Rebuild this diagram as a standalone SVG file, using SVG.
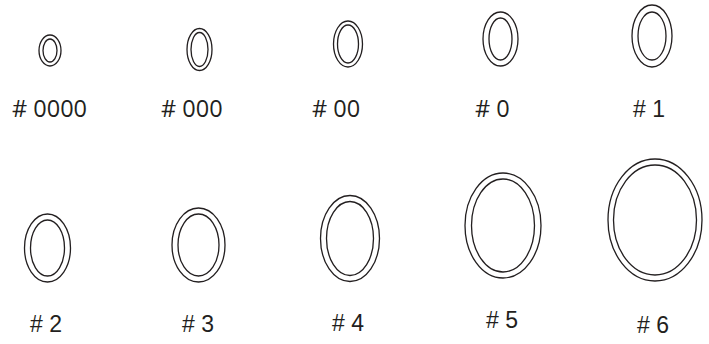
<svg xmlns="http://www.w3.org/2000/svg" width="709" height="344" viewBox="0 0 709 344">
<style>
.r{fill:none;stroke:#231f20;stroke-width:1.3}
.a{font-family:"Open Sans","Liberation Sans",sans-serif;font-size:23.5px;fill:#231f20}
.b{font-family:"Liberation Sans",Arial,sans-serif;font-size:23px;fill:#231f20}
</style>
<rect width="709" height="344" fill="#fff"/>
<g id="s0000">
<ellipse class="r" cx="50" cy="50.5" rx="11" ry="15.5"/>
<ellipse class="r" cx="50" cy="50.5" rx="7" ry="11.5"/>
<text class="a" x="12" y="117">#&#160;0000</text>
</g>
<g id="s000">
<ellipse class="r" cx="199.5" cy="49.5" rx="12.5" ry="21"/>
<ellipse class="r" cx="199.5" cy="49.5" rx="8.5" ry="17"/>
<text class="a" x="161" y="117">#&#160;000</text>
</g>
<g id="s00">
<ellipse class="r" cx="348" cy="44" rx="14.5" ry="23"/>
<ellipse class="r" cx="348" cy="44" rx="10.5" ry="19"/>
<text class="a" x="312" y="117">#&#160;00</text>
</g>
<g id="s0">
<ellipse class="r" cx="500.5" cy="39" rx="17.5" ry="27"/>
<ellipse class="r" cx="500.5" cy="39" rx="11.5" ry="21"/>
<text class="a" x="475" y="117">#&#160;0</text>
</g>
<g id="s1">
<ellipse class="r" cx="652" cy="36" rx="20" ry="31"/>
<ellipse class="r" cx="652" cy="36" rx="14" ry="24"/>
<text class="b" x="633" y="117">#&#160;1</text>
</g>
<g id="s2">
<ellipse class="r" cx="47.5" cy="248" rx="23" ry="34"/>
<ellipse class="r" cx="47.5" cy="248" rx="17" ry="28"/>
<text class="b" x="30" y="332">#&#160;2</text>
</g>
<g id="s3">
<ellipse class="r" cx="198.5" cy="245" rx="26.5" ry="37"/>
<ellipse class="r" cx="198.5" cy="245" rx="20.5" ry="31"/>
<text class="b" x="182" y="332">#&#160;3</text>
</g>
<g id="s4">
<ellipse class="r" cx="350" cy="238.5" rx="29.5" ry="43"/>
<ellipse class="r" cx="350" cy="238.5" rx="23.5" ry="37"/>
<text class="b" x="332" y="331">#&#160;4</text>
</g>
<g id="s5">
<ellipse class="r" cx="503" cy="225.5" rx="38" ry="52.5"/>
<ellipse class="r" cx="503" cy="225.5" rx="31.5" ry="46.5"/>
<text class="b" x="486" y="328">#&#160;5</text>
</g>
<g id="s6">
<ellipse class="r" cx="655" cy="220" rx="47" ry="61"/>
<ellipse class="r" cx="655" cy="220" rx="41.5" ry="55"/>
<text class="b" x="637" y="333">#&#160;6</text>
</g>
</svg>
